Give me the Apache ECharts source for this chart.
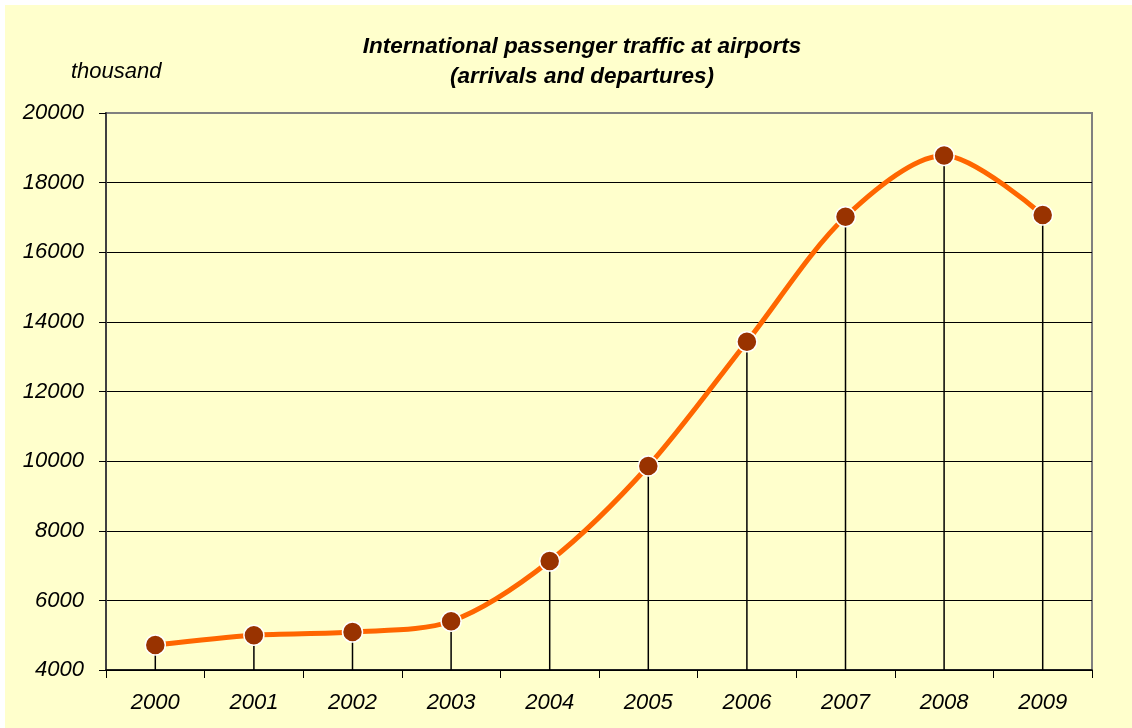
<!DOCTYPE html>
<html>
<head>
<meta charset="utf-8">
<script src="https://cdn.jsdelivr.net/npm/echarts@6/dist/echarts.min.js"></script>
<style>
html,body{margin:0;padding:0;background:#fff;}
#c{position:absolute;left:0;top:0;width:1132px;height:728px;}
</style>
</head>
<body>
<div id="c"></div>
<script>
const years = ['2000','2001','2002','2003','2004','2005','2006','2007','2008','2009'];
const traffic = [4720, 5000, 5090, 5400, 7130, 9860, 13430, 17020, 18780, 17070];
const yMin = 4000, yMax = 20000, yStep = 2000;
const titleText = 'International passenger traffic at airports\n(arrivals and departures)';
const unitText = 'thousand';

const chart = echarts.init(document.getElementById('c'), null, {renderer: 'canvas'});
const font = '"Liberation Sans", Arial, sans-serif';
chart.setOption({
  backgroundColor: '#FFFFCC',
  animation: false,
  graphic: [
    {type: 'rect', left: 0, top: 0, shape: {width: 1132, height: 5}, style: {fill: '#fff'}},
    {type: 'rect', left: 0, top: 0, shape: {width: 5, height: 728}, style: {fill: '#fff'}}
  ],
  title: [
    {
      text: titleText, left: 577, top: 27, textAlign: 'center',
      textStyle: {fontFamily: font, fontSize: 22.5, fontWeight: 'bold', fontStyle: 'italic', color: '#000', lineHeight: 30}
    },
    {
      text: unitText, left: 66, top: 56,
      textStyle: {fontFamily: font, fontSize: 22, fontWeight: 'normal', fontStyle: 'italic', color: '#000'}
    }
  ],
  grid: {left: 106, right: 40, top: 113, bottom: 58, show: true, borderColor: '#808080', borderWidth: 2, backgroundColor: 'transparent'},
  xAxis: {
    type: 'category', data: years, boundaryGap: true,
    axisLine: {lineStyle: {color: '#000', width: 1.5}},
    axisTick: {show: true, length: 8, alignWithLabel: false, lineStyle: {color: '#000'}},
    axisLabel: {fontFamily: font, fontSize: 22, fontStyle: 'italic', color: '#000', margin: 22},
    splitLine: {show: false}
  },
  yAxis: {
    type: 'value', min: yMin, max: yMax, interval: yStep,
    axisLine: {show: true, lineStyle: {color: '#404040', width: 2}},
    axisTick: {show: true, length: 7, lineStyle: {color: '#000'}},
    axisLabel: {fontFamily: font, fontSize: 22, fontStyle: 'italic', color: '#000', margin: 22, formatter: v => String(v)},
    splitLine: {show: true, showMaxLine: false, lineStyle: {color: '#000', width: 1}}
  },
  series: [
    {
      type: 'bar', data: traffic, barWidth: 1.5, silent: true,
      itemStyle: {color: '#000'}, z: 1
    },
    {
      type: 'line', data: traffic, smooth: 0.3,
      lineStyle: {color: '#FF6600', width: 5},
      symbol: 'circle', symbolSize: 20,
      itemStyle: {color: '#993300', borderColor: '#fff', borderWidth: 1.5},
      z: 3
    }
  ]
});
</script>
</body>
</html>
